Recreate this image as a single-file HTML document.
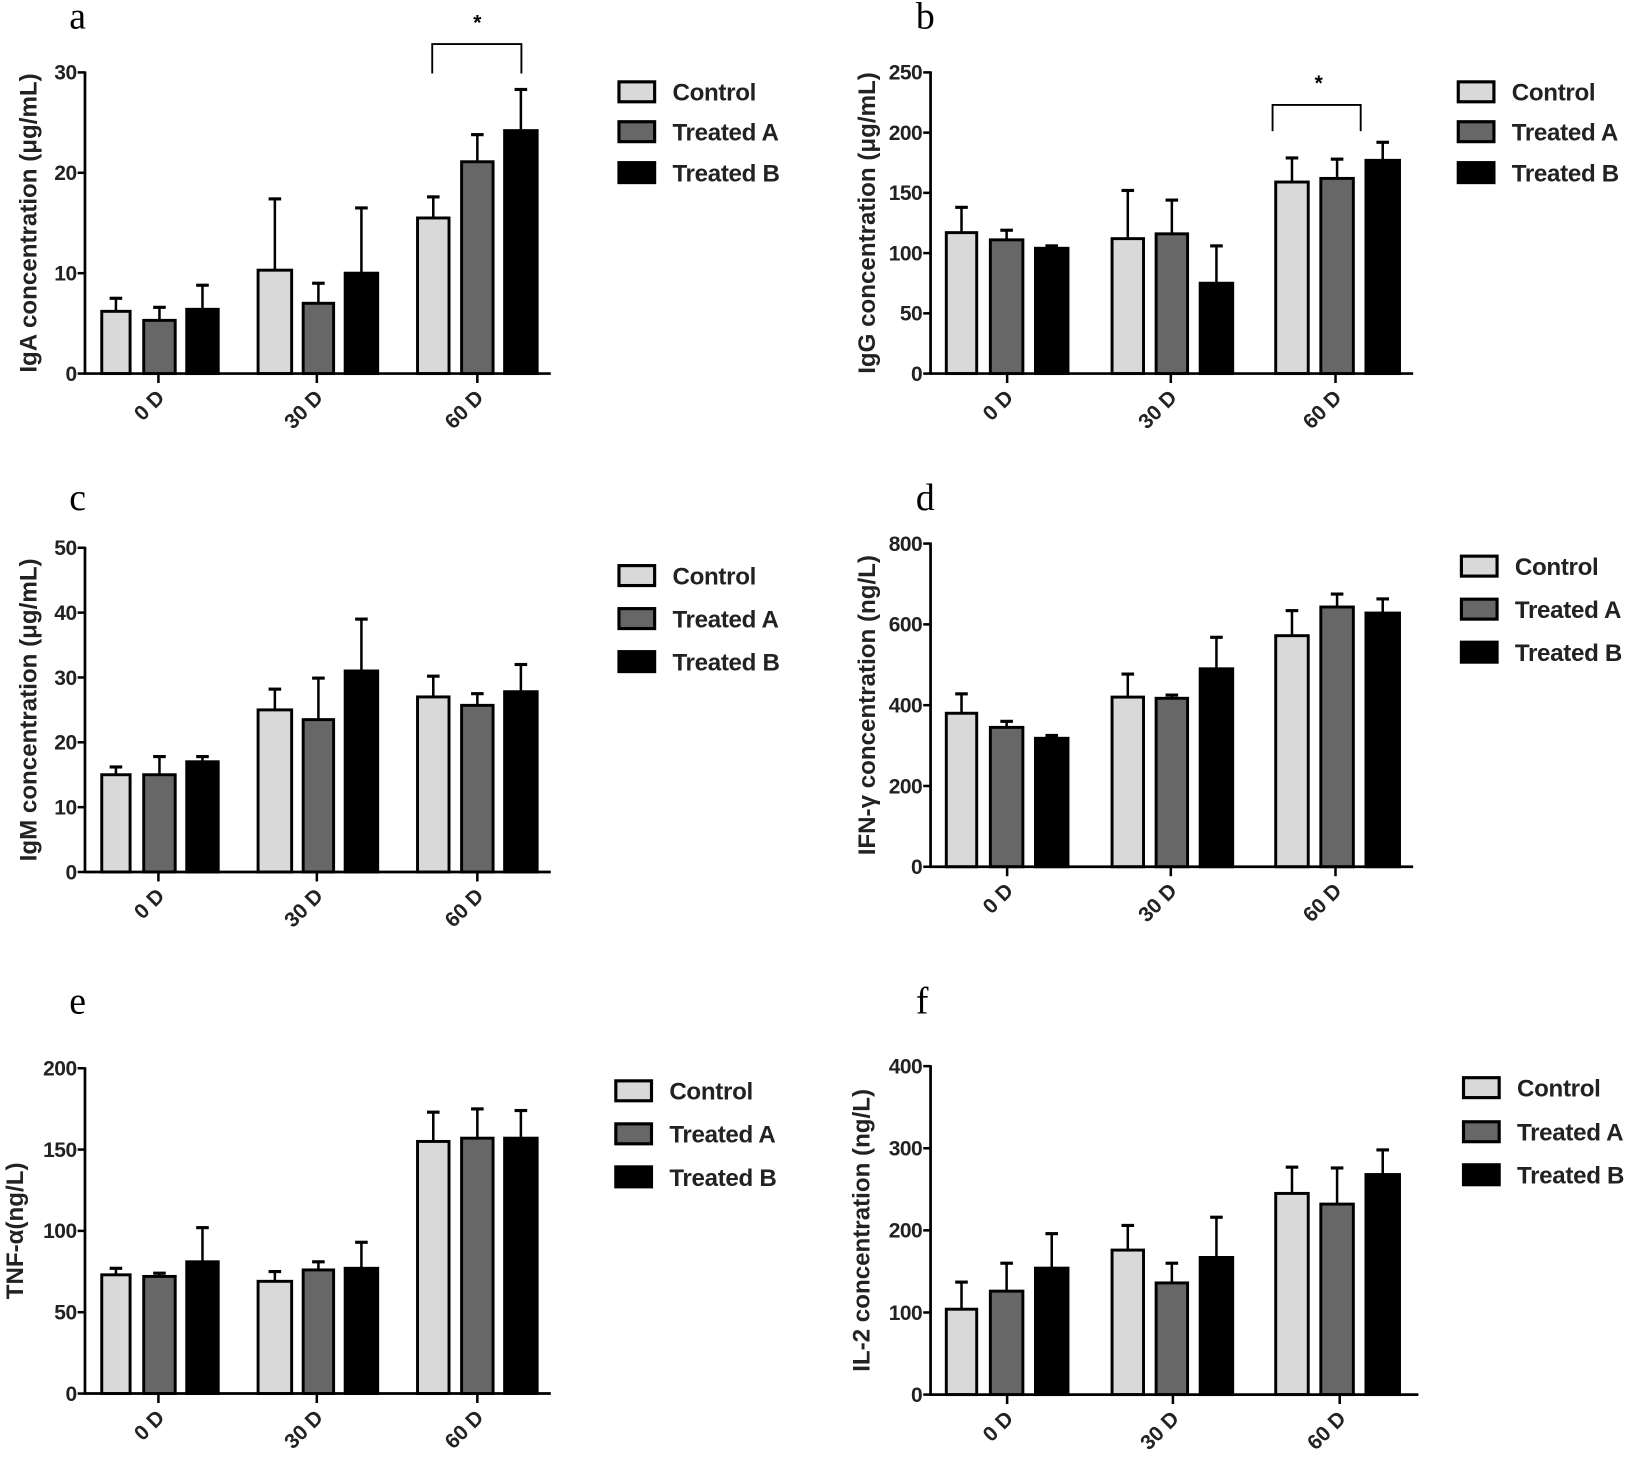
<!DOCTYPE html>
<html><head><meta charset="utf-8"><style>
html,body{margin:0;padding:0;background:#fff;}
svg{display:block;}
text{font-family:"Liberation Sans",Arial,sans-serif;}
</style></head><body>
<svg id="s" width="1645" height="1467" viewBox="0 0 1568 1398" preserveAspectRatio="none" xmlns="http://www.w3.org/2000/svg"></svg>
<script>
var s=document.getElementById('s');
var NS='http://www.w3.org/2000/svg';
function el(t,a,txt){var e=document.createElementNS(NS,t);for(var k in a)e.setAttribute(k,a[k]);if(txt!==undefined)e.textContent=txt;s.appendChild(e);return e;}
var L=[[97,124],[137,167],[178,208],[246,278],[289,318],[329,360],[398,428],[440,470],[481,512]];
var R=[[902,931],[944,975],[987,1018],[1060,1090],[1102,1132],[1144,1175],[1216,1247],[1259,1290],[1302,1334]];
var fills=['#d9d9d9','#676767','#000'];
var P=[
{lab:'a',lx:66,ly:27,ax:81,end:525,y0:356,yt:69,max:30,ticks:[0,10,20,30],bars:L,gx:[151,302,455],
 v:[6.2,5.3,6.4,10.3,7.0,10.0,15.5,21.1,24.2],e:[1.3,1.3,2.4,7.1,2.0,6.5,2.1,2.7,4.1],
 lgx:590,lgy:[78,116,155],ylab:'IgA concentration (μg/mL)',ylx:35,br:[412,497,42,70,455,28]},
{lab:'b',lx:873,ly:27,ax:887,end:1347,y0:356,yt:69,max:250,ticks:[0,50,100,150,200,250],bars:R,gx:[960,1116,1273],
 v:[117,111,104,112,116,75,159,162,177],e:[21,8,2,40,28,31,20,16,15],
 lgx:1390,lgy:[78,116,155],ylab:'IgG concentration (μg/mL)',ylx:834,br:[1213,1297,100,125,1257,86]},
{lab:'c',lx:66,ly:486,ax:81,end:525,y0:831,yt:522,max:50,ticks:[0,10,20,30,40,50],bars:L,gx:[151,302,455],
 v:[15,15,17,25,23.5,31,27,25.7,27.8],e:[1.2,2.8,0.8,3.2,6.4,8,3.2,1.8,4.2],
 lgx:590,lgy:[539,580,621],ylab:'IgM concentration (μg/mL)',ylx:35},
{lab:'d',lx:873,ly:486,ax:887,end:1347,y0:826,yt:518,max:800,ticks:[0,200,400,600,800],bars:R,gx:[960,1116,1273],
 v:[380,345,318,420,417,490,572,643,628],e:[48,15,7,57,8,78,62,32,35],
 lgx:1393,lgy:[530,571,612],ylab:'IFN-γ concentration (ng/L)',ylx:834},
{lab:'e',lx:66,ly:966,ax:81,end:525,y0:1328,yt:1018,max:200,ticks:[0,50,100,150,200],bars:L,gx:[151,302,455],
 v:[73,72,81,69,76,77,155,157,157],e:[4,2,21,6,5,16,18,18,17],
 lgx:587,lgy:[1030,1071,1112],ylab:'TNF-α(ng/L)',ylx:22},
{lab:'f',lx:873,ly:966,ax:887,end:1352,y0:1329,yt:1016,max:400,ticks:[0,100,200,300,400],bars:R,gx:[960,1118,1277],
 v:[104,126,154,176,136,167,245,232,268],e:[33,34,42,30,24,49,32,44,30],
 lgx:1395,lgy:[1027,1069,1110],ylab:'IL-2 concentration (ng/L)',ylx:829}
];
var names=['Control','Treated A','Treated B'];
P.forEach(function(p){
 var sc=(p.y0-p.yt)/p.max;
 el('text',{x:p.lx,y:p.ly,'font-size':36,style:'font-family:"Liberation Serif",serif'},p.lab);
 p.bars.forEach(function(b,i){
  var top=p.y0-p.v[i]*sc, et=p.y0-(p.v[i]+p.e[i])*sc, cx=(b[0]+b[1])/2;
  el('line',{x1:cx,y1:top,x2:cx,y2:et,stroke:'#000','stroke-width':2.4});
  el('line',{x1:cx-6,y1:et,x2:cx+6,y2:et,stroke:'#000','stroke-width':3});
  el('rect',{x:b[0],y:top,width:b[1]-b[0],height:p.y0-top,fill:fills[i%3],stroke:'#000','stroke-width':2.8});
 });
 el('line',{x1:p.ax,y1:p.yt-1,x2:p.ax,y2:p.y0,stroke:'#000','stroke-width':2.6});
 el('line',{x1:p.ax-1,y1:p.y0,x2:p.end,y2:p.y0,stroke:'#000','stroke-width':2.6});
 p.ticks.forEach(function(t){
  var y=p.y0-t*sc;
  el('line',{x1:p.ax-7,y1:y,x2:p.ax,y2:y,stroke:'#000','stroke-width':2.4});
  el('text',{x:p.ax-8,y:y+7,'font-size':20,'font-weight':'bold','text-anchor':'end',fill:'#222','letter-spacing':'-0.5'},t);
 });
 var gl=['0 D','30 D','60 D'];
 p.gx.forEach(function(x,i){
  el('line',{x1:x,y1:p.y0,x2:x,y2:p.y0+9,stroke:'#000','stroke-width':2.4});
  el('text',{x:x+7,y:p.y0+24,'font-size':20,'font-weight':'bold','text-anchor':'end',fill:'#222',transform:'rotate(-45 '+(x+7)+' '+(p.y0+24)+')'},gl[i]);
 });
 var cy=(p.y0+p.yt)/2;
 el('text',{x:p.ylx,y:cy,'font-size':23,'font-weight':'bold','text-anchor':'middle',fill:'#222',transform:'rotate(-90 '+p.ylx+' '+cy+')'},p.ylab);
 p.lgy.forEach(function(y,i){
  el('rect',{x:p.lgx,y:y,width:34,height:19,fill:fills[i],stroke:'#000','stroke-width':3});
  el('text',{x:p.lgx+51,y:y+18,'font-size':23,'font-weight':'bold',fill:'#222','letter-spacing':'-0.3'},names[i]);
 });
 if(p.br){var b=p.br;
  el('polyline',{points:b[0]+','+b[3]+' '+b[0]+','+b[2]+' '+b[1]+','+b[2]+' '+b[1]+','+b[3],fill:'none',stroke:'#000','stroke-width':1.8});
  el('text',{x:b[4],y:b[5],'font-size':20,'font-weight':'bold','text-anchor':'middle'},'*');
 }
});
</script>
</body></html>
